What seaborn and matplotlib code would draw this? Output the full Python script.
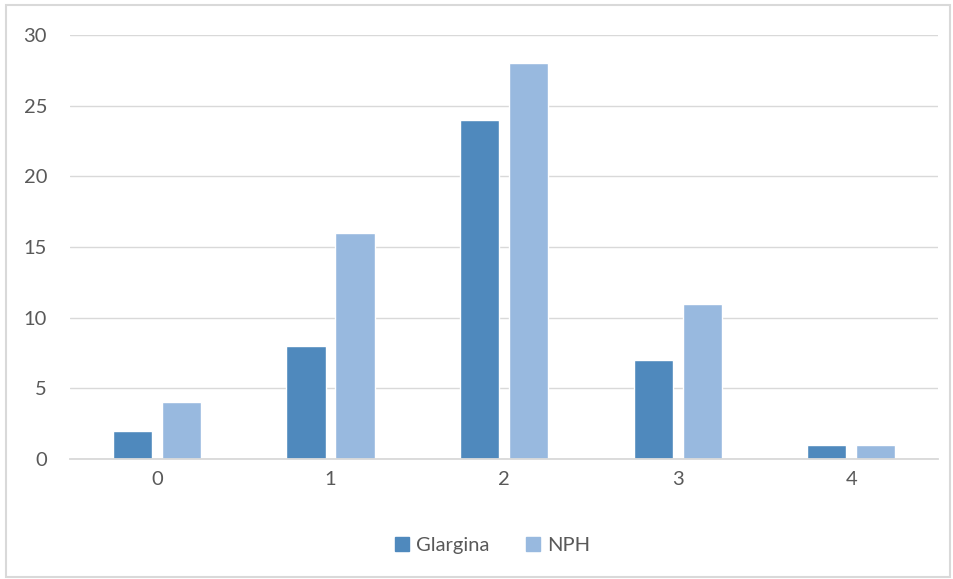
import matplotlib
matplotlib.use("Agg")
import matplotlib.pyplot as plt
import pandas as pd
import seaborn as sns
from matplotlib.patches import Rectangle

categories = ["0", "1", "2", "3", "4"]
glargina = [2, 8, 24, 7, 1]
nph = [4, 16, 28, 11, 1]
series = ["Glargina", "NPH"]
colors = ["#4F89BD", "#98B9DF"]


def get_df() -> pd.DataFrame:
    rows = []
    for name, vals in zip(series, [glargina, nph]):
        for cat, v in zip(categories, vals):
            rows.append({"cat": cat, "value": v, "series": name})
    return pd.DataFrame(rows)


def main() -> None:
    sns.set_style("white")
    plt.rcParams["font.family"] = ["Lato", "DejaVu Sans"]
    text_color = "#595959"
    grid_color = "#D9D9D9"

    fig = plt.figure(figsize=(9.54, 5.79), dpi=100)
    ax = fig.add_axes([0.0734, 0.2073, 0.91, 0.7323])

    df = get_df()
    sns.barplot(data=df, x="cat", y="value", hue="series", palette=colors,
                width=0.565, gap=0.2, ax=ax, legend=False, saturation=1)

    ax.set_ylim(0, 30)
    ax.set_xlim(-0.5, 4.5)
    ax.set_yticks(range(0, 31, 5))
    ax.yaxis.grid(True, color=grid_color, linewidth=1)
    ax.set_axisbelow(True)
    for side in ["left", "right", "top"]:
        ax.spines[side].set_visible(False)
    ax.spines["bottom"].set_color(grid_color)
    ax.spines["bottom"].set_linewidth(1.3)
    ax.tick_params(axis="both", length=0, labelsize=14.5, colors=text_color)
    ax.tick_params(axis="y", pad=16.5)
    ax.tick_params(axis="x", pad=9)
    ax.set_xlabel("")
    ax.set_ylabel("")

    handles = [Rectangle((0, 0), 1, 1, color=c) for c in colors]
    fig.legend(handles, series, loc="center", bbox_to_anchor=(0.516, 0.058),
               ncol=2, frameon=False, fontsize=14.5, labelcolor=text_color,
               handlelength=0.7, handleheight=0.7, columnspacing=1.8,
               handletextpad=0.35)

    fig.patches.append(Rectangle((0.006, 0.004), 0.99, 0.988, transform=fig.transFigure,
                                 fill=False, edgecolor=grid_color, linewidth=1.5))
    fig.savefig("out.png", dpi=100, facecolor="white")


if __name__ == "__main__":
    main()
